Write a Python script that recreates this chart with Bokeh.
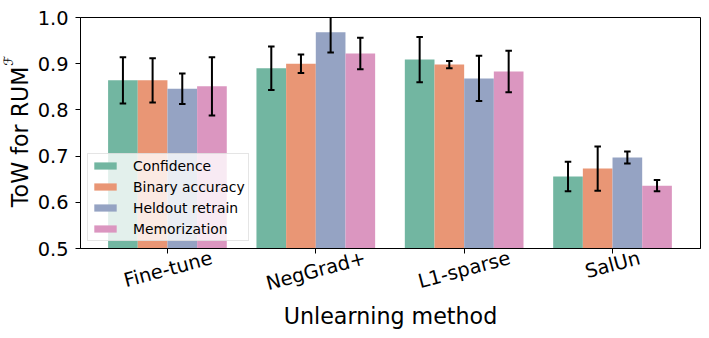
import math
from bokeh.plotting import figure
from bokeh.models import (Range1d, FixedTicker, Legend, LegendItem, Title, LinearAxis,
                          ColumnDataSource, NumeralTickFormatter, CustomJSTickFormatter)
from bokeh.embed import file_html
from bokeh.resources import INLINE

methods = ["Fine-tune", "NegGrad+", "L1-sparse", "SalUn"]
metrics = ["Confidence", "Binary accuracy", "Heldout retrain", "Memorization"]
confidence = [0.864, 0.890, 0.909, 0.656]
confidence_err = [0.050, 0.047, 0.049, 0.032]
binary_accuracy = [0.864, 0.900, 0.898, 0.673]
binary_accuracy_err = [0.048, 0.020, 0.008, 0.048]
heldout_retrain = [0.846, 0.968, 0.868, 0.697]
heldout_retrain_err = [0.033, 0.044, 0.049, 0.013]
memorization = [0.851, 0.922, 0.883, 0.636]
memorization_err = [0.063, 0.034, 0.045, 0.012]
y_ticks = [0.5, 0.6, 0.7, 0.8, 0.9, 1.0]
colors = ["#72b6a1", "#e99675", "#95a3c3", "#db96c0"]

series = [confidence, binary_accuracy, heldout_retrain, memorization]
errors = [confidence_err, binary_accuracy_err, heldout_retrain_err, memorization_err]

FONT = "DejaVu Sans"
TICK_PX = 19.4
BAR_W = 0.2
CAP = 0.022
X0, X1 = -0.586, 3.593
FRAME_W = 620
ROT = math.radians(15)

# DejaVu Sans advance widths (em) to centre the rotated category labels on their ticks
ADV = {"F": .575, "i": .278, "n": .634, "e": .615, "-": .361, "t": .392, "u": .634,
       "N": .748, "g": .635, "G": .775, "r": .411, "a": .613, "d": .635, "+": .838,
       "L": .557, "1": .636, "s": .521, "p": .635, "S": .635, "l": .278, "U": .732}

p = figure(width=708, height=337, output_backend="svg", toolbar_location=None,
           x_range=Range1d(X0, X1), y_range=Range1d(0.5, 1.0),
           min_border_left=80, min_border_right=8, min_border_top=17, min_border_bottom=89)
p.background_fill_color = "white"
p.border_fill_color = "white"
p.outline_line_color = "black"
p.outline_line_width = 1
p.xgrid.visible = False
p.ygrid.visible = False

items = []
for j, (vals, errs) in enumerate(zip(series, errors)):
    xs = [i + (j - 1.5) * BAR_W for i in range(len(methods))]
    src = ColumnDataSource(dict(x=xs, top=vals, lo=[v - e for v, e in zip(vals, errs)],
                                hi=[v + e for v, e in zip(vals, errs)],
                                xl=[x - CAP for x in xs], xr=[x + CAP for x in xs]))
    r = p.vbar(x="x", top="top", bottom=0.0, width=BAR_W, source=src,
               fill_color=colors[j], line_color=None)
    items.append(LegendItem(label=metrics[j], renderers=[r]))
    p.segment(x0="x", y0="lo", x1="x", y1="hi", source=src, line_color="black", line_width=2)
    p.segment(x0="xl", y0="lo", x1="xr", y1="lo", source=src, line_color="black", line_width=2)
    p.segment(x0="xl", y0="hi", x1="xr", y1="hi", source=src, line_color="black", line_width=2)

# y axis
p.yaxis.ticker = FixedTicker(ticks=y_ticks)
p.yaxis.formatter = NumeralTickFormatter(format="0.0")
p.yaxis.major_label_text_font = FONT
p.yaxis.major_label_text_font_size = f"{TICK_PX}px"
p.yaxis.major_label_text_color = "black"
p.yaxis.major_label_standoff = 7
p.yaxis.major_tick_out = 5
p.yaxis.major_tick_in = 0
p.yaxis.minor_tick_line_color = None
p.yaxis.axis_line_color = "black"
p.yaxis.major_tick_line_color = "black"

# x axis: tick marks only
cat_pos = list(range(len(methods)))
p.xaxis.ticker = FixedTicker(ticks=cat_pos)
p.xaxis.major_label_overrides = {i: "" for i in cat_pos}
p.xaxis.major_label_text_font_size = "0px"
p.xaxis.major_label_standoff = 0
p.xaxis.major_tick_out = 5
p.xaxis.major_tick_in = 0
p.xaxis.minor_tick_line_color = None
p.xaxis.axis_line_color = "black"
p.xaxis.major_tick_line_color = "black"

# second x axis: rotated category labels, shifted so each label is centred on its tick
scale = FRAME_W / (X1 - X0)
shifts = [0.5 * sum(ADV[c] for c in m) * TICK_PX * math.cos(ROT) / scale for m in methods]
lab_axis = LinearAxis(ticker=FixedTicker(ticks=[c + s for c, s in zip(cat_pos, shifts)]),
                      formatter=CustomJSTickFormatter(args=dict(names=methods),
                                                      code="return names[index]"))
lab_axis.major_label_orientation = ROT
lab_axis.major_label_text_font = FONT
lab_axis.major_label_text_font_size = f"{TICK_PX}px"
lab_axis.major_label_text_color = "black"
lab_axis.major_label_standoff = 4
lab_axis.major_tick_out = 0
lab_axis.major_tick_in = 0
lab_axis.major_tick_line_color = None
lab_axis.minor_tick_line_color = None
lab_axis.axis_line_color = None
lab_axis.axis_label = "Unlearning method"
lab_axis.axis_label_text_font = FONT
lab_axis.axis_label_text_font_size = "22.2px"
lab_axis.axis_label_text_font_style = "normal"
lab_axis.axis_label_text_color = "black"
lab_axis.axis_label_standoff = -6
p.add_layout(lab_axis, "below")

# y label with superscript, as side titles
p.add_layout(Title(text="ToW for RUM", align="right", offset=49, standoff=1,
                   vertical_align="middle",
                   text_font=FONT, text_font_size="22.2px", text_font_style="normal",
                   text_color="black"), "left")
p.add_layout(Title(text="\u2131", align="right", offset=38, standoff=-20,
                   vertical_align="bottom",
                   text_font=FONT, text_font_size="13px", text_font_style="italic",
                   text_color="black"), "left")

legend = Legend(items=items, location=(7, 7), margin=0, padding=3, spacing=4,
                glyph_width=28, glyph_height=9, label_height=17, label_standoff=14,
                label_text_font=FONT, label_text_font_size="13.9px",
                label_text_color="black",
                border_line_color="#cccccc", border_line_width=1,
                background_fill_color="white", background_fill_alpha=0.8)
p.add_layout(legend)

open("out.html", "w").write(file_html(p, INLINE))
